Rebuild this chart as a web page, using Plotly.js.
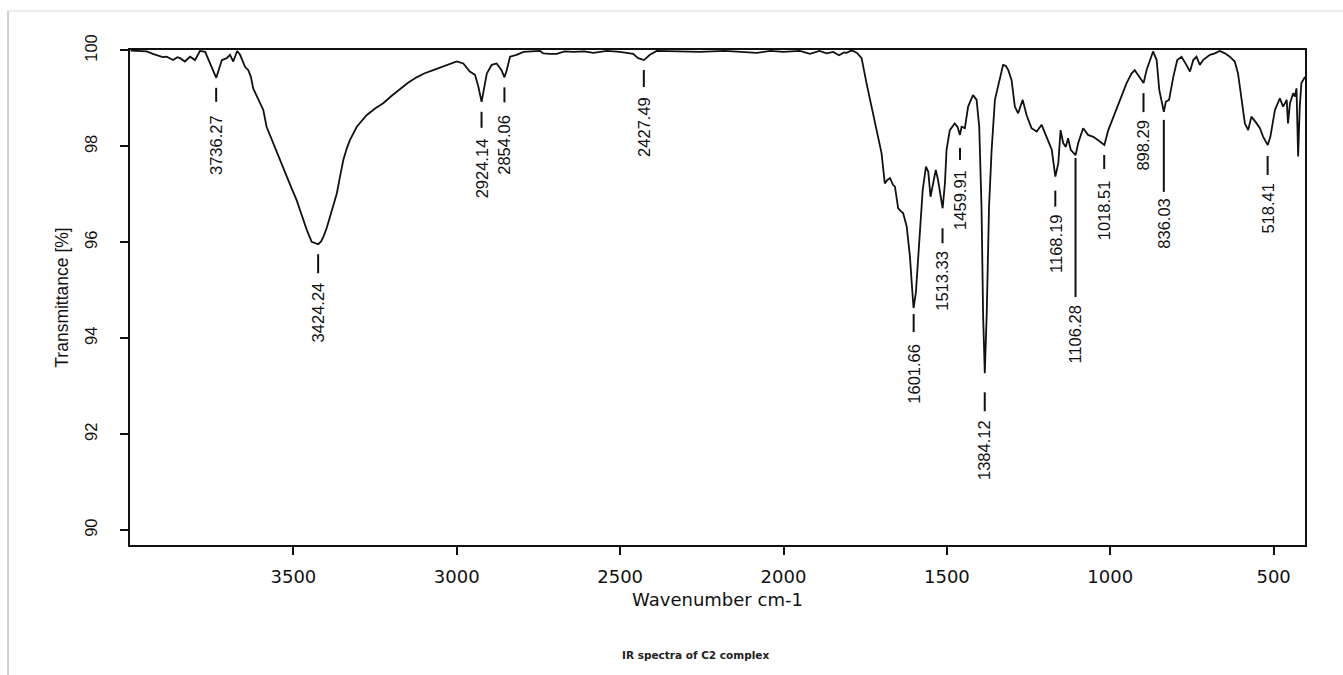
<!DOCTYPE html>
<html><head><meta charset="utf-8">
<script src="https://cdn.plot.ly/plotly-3.0.1.min.js"></script>
<style>html,body{margin:0;padding:0;background:#fff}#chart{width:1343px;height:675px}</style>
</head><body><div id="chart"></div>
<script>
const wavenumber = [3998,3975,3949,3930,3918,3900,3888,3868,3855,3847,3832,3816,3801,3786,3770,3755,3745,3736,3730,3719,3704,3694,3684,3672,3663,3648,3638,3630,3623,3610,3592,3582,3565,3551,3535,3520,3505,3490,3475,3459,3444,3432,3424,3415,3408,3398,3388,3378,3367,3357,3347,3337,3327,3306,3290,3276,3250,3225,3200,3174,3150,3123,3100,3072,3045,3021,3000,2980,2960,2944,2934,2924,2919,2908,2893,2878,2863,2854,2847,2837,2817,2796,2745,2735,2715,2694,2670,2644,2610,2582,2540,2501,2460,2445,2427,2409,2388,2320,2256,2180,2082,2040,2001,1950,1919,1890,1868,1848,1830,1815,1807,1795,1787,1775,1766,1761,1746,1730,1715,1700,1690,1682,1674,1665,1659,1649,1641,1634,1623,1613,1607,1602,1595,1589,1583,1574,1564,1557,1550,1542,1534,1527,1520,1513,1506,1501,1491,1476,1467,1460,1455,1445,1435,1420,1409,1401,1394,1389,1384,1378,1371,1363,1353,1340,1328,1320,1312,1302,1292,1282,1268,1256,1241,1225,1210,1195,1179,1168,1159,1152,1144,1136,1129,1121,1106,1098,1083,1068,1052,1037,1018,1006,986,965,950,935,925,915,898,889,879,869,858,850,836,830,820,807,795,782,767,756,746,736,726,716,695,680,665,649,634,619,609,598,588,578,568,552,542,532,518,510,496,481,471,460,456,450,440,435,430,425,420,415,408,404];
const transmittance = [100.0,99.99,99.98,99.93,99.90,99.86,99.87,99.80,99.86,99.84,99.77,99.87,99.80,99.99,99.97,99.73,99.55,99.43,99.56,99.80,99.84,99.91,99.77,99.99,99.91,99.66,99.59,99.45,99.21,99.02,98.76,98.41,98.12,97.86,97.62,97.37,97.12,96.88,96.58,96.26,96.01,95.97,95.96,96.02,96.12,96.30,96.54,96.76,97.02,97.38,97.72,97.95,98.13,98.41,98.55,98.65,98.79,98.90,99.05,99.20,99.32,99.44,99.52,99.59,99.66,99.72,99.77,99.73,99.56,99.49,99.25,98.93,99.11,99.52,99.70,99.73,99.59,99.44,99.59,99.87,99.91,99.97,99.99,99.94,99.93,99.93,99.98,99.97,99.98,99.95,99.99,99.97,99.93,99.84,99.80,99.91,99.99,99.98,99.97,99.99,99.95,99.99,99.97,99.99,99.93,99.99,99.94,99.97,99.90,99.96,99.95,99.99,99.99,99.95,99.87,99.84,99.32,98.83,98.34,97.86,97.23,97.30,97.34,97.20,97.16,96.71,96.65,96.61,96.33,95.70,95.10,94.63,94.94,95.60,96.19,97.09,97.58,97.47,96.95,97.23,97.51,97.30,97.00,96.71,97.23,97.93,98.34,98.48,98.40,98.24,98.41,98.38,98.83,99.07,98.97,98.41,96.74,94.45,93.27,94.52,96.74,97.93,98.97,99.38,99.70,99.68,99.59,99.38,98.83,98.69,98.97,98.65,98.38,98.31,98.45,98.20,97.93,97.37,97.65,98.34,98.07,97.99,98.17,97.93,97.82,98.07,98.38,98.24,98.20,98.13,98.03,98.34,98.69,99.07,99.32,99.52,99.59,99.49,99.32,99.59,99.80,99.98,99.80,99.18,98.72,98.93,98.97,99.45,99.80,99.87,99.70,99.56,99.80,99.87,99.70,99.80,99.91,99.94,99.99,99.94,99.87,99.77,99.52,98.97,98.48,98.34,98.62,98.48,98.38,98.20,98.03,98.20,98.76,99.00,98.83,98.97,98.48,98.90,99.11,99.04,99.21,97.79,98.83,99.32,99.42,99.45];

const peakWavenumber = [3736.27,3424.24,2924.14,2854.06,2427.49,1601.66,1513.33,1459.91,1384.12,1168.19,1106.28,1018.51,898.29,836.03,518.41];
const peakTransmittance = [99.43,95.96,98.93,99.44,99.80,94.63,96.71,98.24,93.27,97.37,97.82,98.03,99.32,98.72,98.03];
const peakText = ['3736.27','3424.24','2924.14','2854.06','2427.49','1601.66','1513.33','1459.91','1384.12','1168.19','1106.28','1018.51','898.29','836.03','518.41'];

const xTickValues = [3500,3000,2500,2000,1500,1000,500];
const yTickValues = [90,92,94,96,98,100];

// label geometry in px (kept apart from the data): gap under the peak, marker line length, gap to text
const labelGap = [10,10,10,10,10,6,20,13,19,14,3,10,10,8,11];
const labelLine = [14,19,16,15,17,18,15,12,19,16,139,14,19,72,19];
const labelTextGap = [12,8,10,11,9,11,7,9,8,7,8,10,7,6,8];

const sans = 'Liberation Sans, Arial, sans-serif';

const shapes = [];
const annotations = [];
peakWavenumber.forEach((wn, i) => {
  shapes.push({
    type: 'line', xref: 'x', yref: 'y', ysizemode: 'pixel',
    x0: wn, x1: wn, yanchor: peakTransmittance[i],
    y0: -labelGap[i], y1: -(labelGap[i] + labelLine[i]),
    line: {color: '#111', width: 2}
  });
  annotations.push({
    x: wn, y: peakTransmittance[i], xref: 'x', yref: 'y',
    text: peakText[i], showarrow: false, textangle: -90,
    xanchor: 'center', yanchor: 'top', borderpad: 0,
    yshift: -(labelGap[i] + labelLine[i] + labelTextGap[i]),
    font: {family: sans, size: 16.5, color: '#111'}
  });
});

annotations.push({
  xref: 'paper', yref: 'paper', x: 0.4817, y: -0.2222,
  text: 'IR spectra of C2 complex', showarrow: false,
  xanchor: 'center', yanchor: 'middle',
  font: {family: 'DejaVu Sans, sans-serif', size: 10.5, color: '#222', weight: 'bold'}
});

// light frame of the original figure
shapes.push({type: 'line', xref: 'paper', yref: 'paper', x0: -0.1038, x1: 1.04, y0: 1.0788, y1: 1.0788, line: {color: '#e6e6e6', width: 1.5}});
shapes.push({type: 'line', xref: 'paper', yref: 'paper', x0: -0.1038, x1: -0.1038, y0: 1.0788, y1: -0.27, line: {color: '#cfcfcf', width: 2}});

const trace = {
  x: wavenumber, y: transmittance, type: 'scatter', mode: 'lines',
  line: {color: '#111', width: 1.8}, hoverinfo: 'x+y', showlegend: false
};

const layout = {
  width: 1343, height: 675,
  margin: {l: 130, r: 38, t: 50, b: 130},
  paper_bgcolor: '#fff', plot_bgcolor: '#fff',
  showlegend: false,
  xaxis: {
    range: [4000, 404], tickvals: xTickValues, ticktext: xTickValues.map(String),
    showgrid: false, zeroline: false, showline: true, mirror: true,
    linecolor: '#111', linewidth: 2, ticks: 'outside', ticklen: 8, tickwidth: 2, tickcolor: '#111',
    tickfont: {family: 'DejaVu Sans, sans-serif', size: 18, color: '#111'},
    ticklabelstandoff: 6,
    title: {text: 'Wavenumber cm-1', font: {family: 'DejaVu Sans, sans-serif', size: 18, color: '#111'}, standoff: 8}
  },
  yaxis: {
    range: [89.69, 100.01], tickvals: yTickValues, ticktext: yTickValues.map(String),
    showgrid: false, zeroline: false, showline: true, mirror: true,
    linecolor: '#111', linewidth: 2, ticks: 'outside', ticklen: 8, tickwidth: 2, tickcolor: '#111',
    tickangle: -90,
    tickfont: {family: sans, size: 16.5, color: '#111'},
    ticklabelstandoff: 16,
    title: {text: 'Transmittance [%]', font: {family: sans, size: 17.5, color: '#111'}, standoff: 9}
  },
  shapes: shapes,
  annotations: annotations
};

Plotly.newPlot('chart', [trace], layout, {displayModeBar: false, staticPlot: true});
</script>
</body></html>
